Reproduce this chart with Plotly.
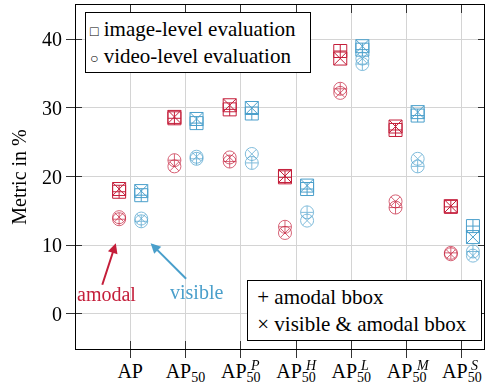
import plotly.graph_objects as go

# ---------------- data ----------------
tick_base = ["AP", "AP<sub>50</sub>", "AP<sub>50</sub>", "AP<sub>50</sub>",
             "AP<sub>50</sub>", "AP<sub>50</sub>", "AP<sub>50</sub>"]
tick_sup = ["", "", "P", "H", "L", "M", "S"]

# amodal (red)
amodal_image_plus = [17.8, 28.5, 29.8, 19.9, 38.3, 26.8, 15.6]
amodal_image_x = [18.2, 28.7, 30.4, 20.1, 37.2, 27.3, 15.7]
amodal_video_plus = [13.8, 22.4, 22.2, 12.7, 32.8, 15.5, 8.9]
amodal_video_x = [14.1, 21.5, 22.8, 11.8, 32.2, 16.4, 8.7]
# visible (blue)
visible_image_plus = [17.3, 27.8, 29.2, 18.2, 38.5, 28.9, 12.8]
visible_image_x = [17.9, 28.4, 30.0, 18.7, 39.0, 29.4, 11.2]
visible_video_plus = [13.5, 22.6, 22.0, 14.8, 36.4, 21.5, 9.1]
visible_video_x = [13.9, 22.9, 23.3, 13.6, 37.2, 22.6, 8.5]

y_ticks = [0, 10, 20, 30, 40]

RED = "#C41E3A"
BLUE = "#4A9FCB"
FONT = "Liberation Serif"

idx = list(range(len(tick_base)))
x_red = [i - 0.2 for i in idx]
x_blue = [i + 0.2 for i in idx]

fig = go.Figure()

def add(xs, ys, symbol, color, opacity):
    fig.add_trace(go.Scatter(
        x=xs, y=ys, mode="markers", showlegend=False, hoverinfo="skip",
        opacity=opacity,
        marker=dict(symbol=symbol, size=13, color=color,
                    line=dict(color=color, width=1)),
    ))

# video-level (circles), lighter
add(x_red, amodal_video_plus, "circle-cross-open", RED, 0.7)
add(x_red, amodal_video_x, "circle-x-open", RED, 0.7)
add(x_blue, visible_video_plus, "circle-cross-open", BLUE, 0.7)
add(x_blue, visible_video_x, "circle-x-open", BLUE, 0.7)
# image-level (squares)
add(x_red, amodal_image_plus, "square-cross-open", RED, 1.0)
add(x_red, amodal_image_x, "square-x-open", RED, 1.0)
add(x_blue, visible_image_plus, "square-cross-open", BLUE, 1.0)
add(x_blue, visible_image_x, "square-x-open", BLUE, 1.0)

# dummy trace for outside-tick overlay axes
fig.add_trace(go.Scatter(x=[None], y=[None], xaxis="x2", yaxis="y2",
                         mode="markers", showlegend=False, hoverinfo="skip"))

XR = [-0.98, 6.4]
YR = [-5.1, 45]

annotations = []
# superscripts on tick labels
for i, s in enumerate(tick_sup):
    if s:
        annotations.append(dict(
            x=i, xref="x", y=0, yref="paper", text="<i>%s</i>" % s,
            showarrow=False, xanchor="left", yanchor="middle",
            xshift=7, yshift=-16, font=dict(family=FONT, size=14, color="black")))

# arrows + labels
annotations.append(dict(x=-0.26, y=10.3, xref="x", yref="y", ax=-14, ay=43,
                        text="", showarrow=True, arrowhead=2, arrowsize=1,
                        arrowwidth=2, arrowcolor=RED, standoff=0))
annotations.append(dict(x=0.37, y=10.3, xref="x", yref="y", ax=37, ay=37,
                        text="", showarrow=True, arrowhead=2, arrowsize=1,
                        arrowwidth=2, arrowcolor=BLUE, standoff=0))
annotations.append(dict(x=-0.42, y=2.9, xref="x", yref="y", text="amodal",
                        showarrow=False, font=dict(family=FONT, size=20, color=RED)))
annotations.append(dict(x=1.2, y=3.2, xref="x", yref="y", text="visible",
                        showarrow=False, font=dict(family=FONT, size=20, color=BLUE)))

# legend boxes
sym = "<span style='font-size:14px'>%s</span>"
annotations.append(dict(
    x=0.022, y=0.98, xref="paper", yref="paper", xanchor="left", yanchor="top",
    align="left", showarrow=False,
    text=(sym % "□") + " image-level evaluation&nbsp;&nbsp;<br>" + (sym % "○") + " video-level evaluation",
    bordercolor="black", borderwidth=1, borderpad=4, bgcolor="white",
    font=dict(family=FONT, size=21, color="black")))
annotations.append(dict(
    x=0.995, y=0.023, xref="paper", yref="paper", xanchor="right", yanchor="bottom",
    align="left", showarrow=False,
    text="&nbsp;+ amodal bbox<br>&nbsp;× visible &amp; amodal bbox&nbsp;&nbsp;",
    bordercolor="black", borderwidth=1, borderpad=4, bgcolor="white",
    font=dict(family=FONT, size=21, color="black")))

fig.update_layout(
    width=485, height=391,
    margin=dict(l=76, r=1, t=5, b=42),
    paper_bgcolor="white", plot_bgcolor="white",
    font=dict(family=FONT, size=20, color="black"),
    showlegend=False,
    xaxis=dict(range=XR, tickvals=idx, ticktext=tick_base, ticks="inside",
               ticklen=8, tickcolor="#333", showline=True, linecolor="black",
               linewidth=1, mirror="ticks", showgrid=True, gridcolor="#d4d4d4",
               gridwidth=1, zeroline=False, tickfont=dict(size=20),
               ticklabelstandoff=4),
    yaxis=dict(range=YR, tickvals=y_ticks, ticks="outside", ticklen=9,
               tickcolor="#333", showline=True, linecolor="black", linewidth=1,
               mirror=True, showgrid=True, gridcolor="#d4d4d4", gridwidth=1,
               zeroline=False, tickfont=dict(size=20),
               title=dict(text="Metric in %", standoff=10, font=dict(size=20))),
    xaxis2=dict(overlaying="x", anchor="y2", range=XR, tickvals=idx,
                ticks="outside", ticklen=8, tickcolor="#333", side="bottom",
                showticklabels=False, showgrid=False, zeroline=False,
                showline=False),
    yaxis2=dict(overlaying="y", anchor="x2", range=YR, tickvals=y_ticks,
                ticks="inside", ticklen=6, tickcolor="#333",
                showticklabels=False, showgrid=False, zeroline=False,
                showline=False, mirror="ticks"),
    annotations=annotations,
)

fig.write_html("out.html", config={"displayModeBar": False},
               post_script="document.body.style.margin='0';document.body.style.overflow='hidden';")
